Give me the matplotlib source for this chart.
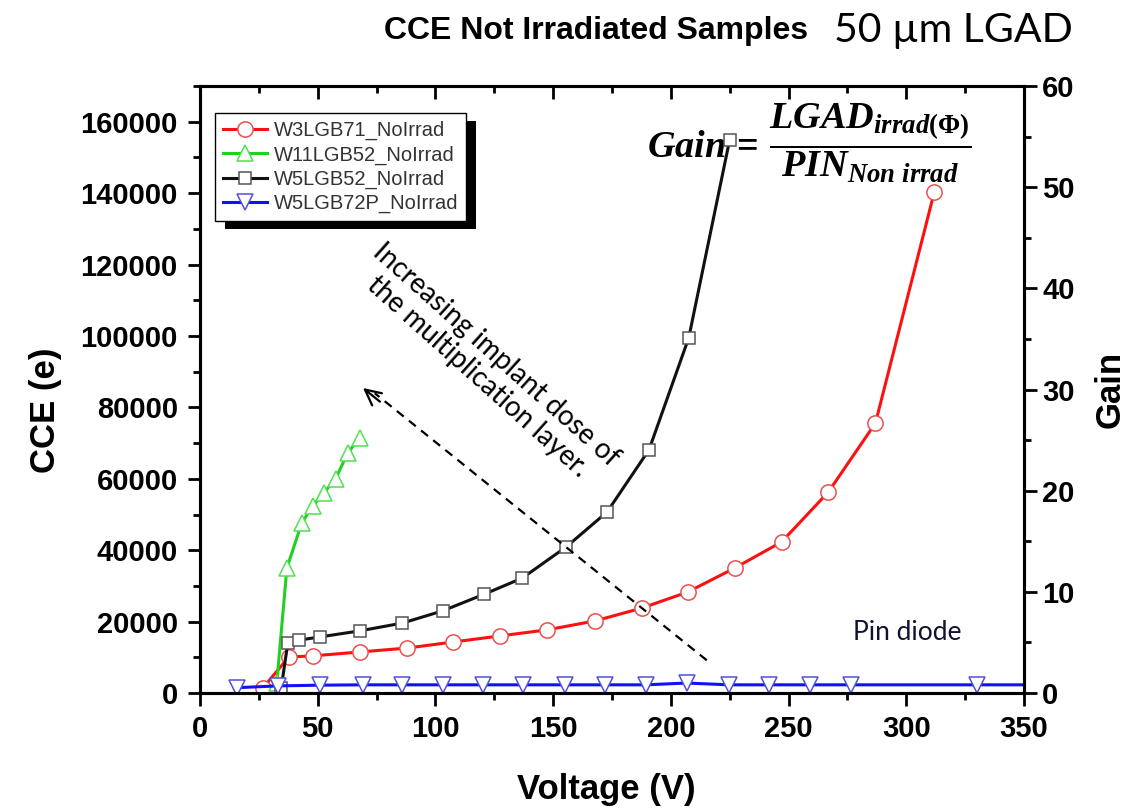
import matplotlib
matplotlib.use("Agg")
import matplotlib.pyplot as plt
from matplotlib.ticker import MultipleLocator
from matplotlib.patches import Rectangle
from matplotlib.transforms import IdentityTransform

# ---- data: bias voltage (V) and collected charge (e) ----
v_w3lgb71 = [26.7, 37.7, 47.9, 67.8, 88.1, 107.6, 127.5, 147.5, 167.8, 187.7,
             207.2, 227.1, 247.0, 266.9, 286.9, 311.9]
cce_w3lgb71 = [1400, 10100, 10400, 11500, 12600, 14300, 16000, 17700, 20200, 23800,
               28300, 35000, 42300, 56300, 75600, 140300]

v_w11lgb52 = [32.6, 36.9, 43.2, 47.9, 52.5, 57.6, 62.7, 67.8]
cce_w11lgb52 = [2800, 35000, 47600, 52400, 56000, 60000, 67200, 71400]

v_w5lgb52 = [34.5, 37.3, 41.9, 50.8, 67.8, 86.0, 103.0, 120.8, 136.9, 155.5,
             172.9, 190.7, 207.6, 225.0]
cce_w5lgb52 = [1500, 14000, 14800, 15700, 17400, 19600, 23000, 27700, 32200, 40900,
               50700, 68100, 99500, 155000]

v_w5lgb72p = [15.7, 33.1, 50.8, 69.1, 85.6, 103.0, 120.3, 137.3, 155.1, 172.0,
              189.4, 206.8, 224.6, 241.5, 259.3, 276.7, 330.1, 350.0]
cce_w5lgb72p = [1500, 2000, 2200, 2300, 2300, 2300, 2300, 2300, 2300, 2300,
                2300, 2800, 2300, 2300, 2300, 2300, 2300, 2300]

series_labels = ["W3LGB71_NoIrrad", "W11LGB52_NoIrrad", "W5LGB52_NoIrrad", "W5LGB72P_NoIrrad"]

x_limits = (0, 350)
cce_limits = (0, 170000)
gain_limits = (0, 60)

# ---- fonts ----
plt.rcParams["font.family"] = ["Liberation Sans", "DejaVu Sans"]
plt.rcParams["mathtext.fontset"] = "custom"
plt.rcParams["mathtext.it"] = "Liberation Serif:bold:italic"
plt.rcParams["mathtext.rm"] = "Liberation Serif:bold"
plt.rcParams["mathtext.bf"] = "Liberation Serif:bold"

fig = plt.figure(figsize=(11.3, 8.1), dpi=100)
ax = fig.add_axes([0.177, 0.1444, 0.7292, 0.7494])
ax2 = ax.twinx()

common = dict(lw=2.2, markerfacecolor="white", markeredgewidth=1.1, zorder=3)
ax.plot(v_w3lgb71, cce_w3lgb71, color="#ff1010", marker="o", ms=11,
        markeredgecolor="#e85050", label=series_labels[0], **common)
ax.plot(v_w11lgb52, cce_w11lgb52, color="#22d022", marker="^", ms=12,
        markeredgecolor="#50e050", label=series_labels[1], **common)
ax.plot(v_w5lgb52, cce_w5lgb52, color="#111111", marker="s", ms=8,
        markeredgecolor="#555555", label=series_labels[2], **common)
ax.plot(v_w5lgb72p, cce_w5lgb72p, color="#1010ff", marker="v", ms=12,
        markeredgecolor="#5050e0", markevery=slice(0, -1), label=series_labels[3], **common)

ax.set_xlim(*x_limits)
ax.set_ylim(*cce_limits)
ax2.set_ylim(*gain_limits)

ax.xaxis.set_major_locator(MultipleLocator(50))
ax.xaxis.set_minor_locator(MultipleLocator(25))
ax.yaxis.set_major_locator(MultipleLocator(20000))
ax.yaxis.set_minor_locator(MultipleLocator(10000))
ax2.yaxis.set_major_locator(MultipleLocator(10))
ax2.yaxis.set_minor_locator(MultipleLocator(5))

tick_font = dict(labelsize=21)
ax.tick_params(axis="both", which="major", direction="out", length=9, width=2, pad=7, **tick_font)
ax.tick_params(axis="both", which="minor", direction="out", length=5, width=2)
ax2.tick_params(axis="y", which="major", direction="out", length=9, width=2, pad=4, **tick_font)
ax2.tick_params(axis="y", which="minor", direction="out", length=5, width=2)
# mirrored ticks along the top edge, pointing inward
ax2.xaxis.set_visible(True)
ax2.tick_params(axis="x", which="both", top=True, bottom=False, labeltop=False,
                labelbottom=False, direction="in", width=2)
ax2.tick_params(axis="x", which="major", length=9)
ax2.tick_params(axis="x", which="minor", length=5)

for a in (ax, ax2):
    for sp in a.spines.values():
        sp.set_linewidth(2.2)
    for lab in a.get_xticklabels() + a.get_yticklabels():
        lab.set_fontweight("bold")

# ---- axis labels and titles ----
fig.text(0.040, 0.494, "CCE (e)", rotation=90, ha="center", va="center",
         fontsize=25, fontweight="bold")
fig.text(0.537, 0.025, "Voltage (V)", ha="center", va="center",
         fontsize=25, fontweight="bold")
fig.text(0.982, 0.519, "Gain", rotation=90, ha="center", va="center",
         fontsize=25, fontweight="bold")
fig.text(0.715, 0.962, "CCE Not Irradiated Samples", ha="right", va="center",
         fontsize=23, fontweight="bold")
fig.text(0.738, 0.962, "50 \u00b5m LGAD", ha="left", va="center",
         fontsize=29.5, family=["Lato", "DejaVu Sans"])

# ---- gain definition ----
ax.text(0.5425, 0.905, r"$Gain\,=\,\dfrac{LGAD_{irrad(\Phi)}}{PIN_{Non\ irrad}}$",
        transform=ax.transAxes, ha="left", va="center", fontsize=27.5, zorder=2)

# ---- annotation arrow and text ----
ax.plot([0.615, 0.212], [0.054, 0.494], transform=ax.transAxes, color="black",
        lw=1.6, ls=(0, (4, 3)), zorder=4)
ax.annotate("", xy=(0.1978, 0.5025), xytext=(0.2184, 0.480),
            xycoords="axes fraction", textcoords="axes fraction",
            arrowprops=dict(arrowstyle="->", lw=1.6, color="black", mutation_scale=28,
                            shrinkA=0, shrinkB=0), zorder=4)
ax.text(0.348, 0.539, "Increasing implant dose of\nthe multiplication layer.",
        transform=ax.transAxes, rotation=-41.8, rotation_mode="anchor",
        ha="center", va="center", multialignment="center", fontsize=20,
        family=["Lato", "DejaVu Sans"], linespacing=1.12, zorder=4)
ax.text(0.858, 0.100, "Pin diode", transform=ax.transAxes, ha="center", va="center",
        fontsize=19, family=["Lato", "DejaVu Sans"], color="#111133")

# ---- legend with a solid drop shadow ----
leg = ax.legend(loc="upper left", bbox_to_anchor=(0.0182, 0.9555), borderaxespad=0,
                fontsize=14.5, frameon=True, fancybox=False, framealpha=1.0,
                handlelength=2.2, handletextpad=0.3, labelspacing=0.25, borderpad=0.4)
leg.get_frame().set_edgecolor("black")
leg.get_frame().set_linewidth(1.0)
leg.get_frame().set_facecolor("white")
for t in leg.get_texts():
    t.set_color("#333333")
leg.set_zorder(6)

fig.canvas.draw()
bb = leg.get_window_extent()
shadow = Rectangle((bb.x0 + 10, bb.y0 - 8), bb.width, bb.height, transform=IdentityTransform(),
                   facecolor="black", edgecolor="none", zorder=5.5)
ax.add_patch(shadow)

fig.savefig("out.png", dpi=100)
